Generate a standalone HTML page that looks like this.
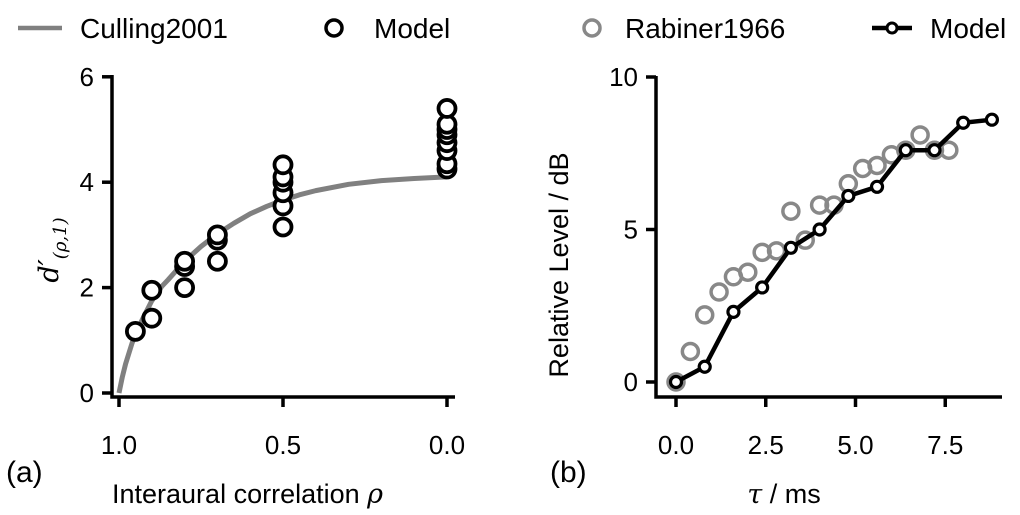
<!DOCTYPE html>
<html><head><meta charset="utf-8"><style>
body{margin:0;background:#fff}
svg text{font-family:"Liberation Sans","DejaVu Sans",sans-serif;fill:#000}
</style></head><body>
<svg id="c" width="1020" height="510" viewBox="0 0 1020 510">
<g id="legend">
 <line x1="18" y1="28" x2="62" y2="28" stroke="#808080" stroke-width="4.5"/>
 <text x="80" y="38" font-size="28">Culling2001</text>
 <circle cx="334" cy="28" r="8" fill="#fff" stroke="#000" stroke-width="3.5"/>
 <text x="374" y="38" font-size="28">Model</text>
 <circle cx="592" cy="28" r="8" fill="#fff" stroke="#888" stroke-width="3.5"/>
 <text x="625" y="38" font-size="28">Rabiner1966</text>
 <line x1="872" y1="28" x2="912" y2="28" stroke="#000" stroke-width="4.5"/>
 <circle cx="892" cy="28" r="5" fill="#fff" stroke="#000" stroke-width="3"/>
 <text x="930" y="38" font-size="28">Model</text>
</g>
<g id="pa"></g>
<g id="pb"></g>
<text x="6" y="482" font-size="30">(a)</text>
<text x="550" y="482" font-size="30">(b)</text>
<text x="112" y="503" font-size="27">Interaural correlation <tspan font-family="DejaVu Serif" font-style="italic">ρ</tspan></text>
<text x="784" y="503" font-size="27" text-anchor="middle"><tspan font-family="DejaVu Serif" font-style="italic">τ</tspan> / ms</text>
<text transform="translate(58,250) rotate(-90)" font-size="27" text-anchor="middle"><tspan font-family="DejaVu Serif" font-style="italic">d′</tspan><tspan font-size="18" dy="8" font-family="DejaVu Serif" font-style="italic">(ρ,1)</tspan></text>
<text transform="translate(568,265) rotate(-90)" font-size="27" text-anchor="middle">Relative Level / dB</text>
</svg>
<script>
// Panel A data
const curveRho=[1.0,0.99,0.98,0.96,0.95,0.93,0.9,0.87,0.85,0.8,0.75,0.7,0.65,0.6,0.55,0.5,0.45,0.4,0.3,0.2,0.1,0.0];
const curveD=[0,0.3,0.55,0.95,1.1,1.38,1.75,2.02,2.15,2.5,2.78,3.02,3.22,3.4,3.54,3.66,3.76,3.84,3.96,4.03,4.07,4.1];
const modelRho=[0.95,0.9,0.9,0.8,0.8,0.8,0.7,0.7,0.7,0.5,0.5,0.5,0.5,0.5,0.5,0.0,0.0,0.0,0.0,0.0,0.0,0.0,0.0];
const modelD=[1.17,1.42,1.95,2.0,2.4,2.5,2.5,2.9,3.0,3.15,3.55,3.8,4.0,4.1,4.33,4.25,4.35,4.6,4.75,4.9,5.0,5.1,5.4];
const xTicksA=[1.0,0.5,0.0], xTickLabelsA=["1.0","0.5","0.0"];
const yTicksA=[0,2,4,6], yTickLabelsA=["0","2","4","6"];
// Panel B data
const rabX=[0,0.4,0.8,1.2,1.6,2.0,2.4,2.8,3.2,3.6,4.0,4.4,4.8,5.2,5.6,6.0,6.4,6.8,7.2,7.6];
const rabY=[0,1.0,2.2,2.95,3.45,3.6,4.25,4.3,5.6,4.65,5.8,5.8,6.5,7.0,7.1,7.45,7.6,8.1,7.6,7.6];
const modBX=[0,0.8,1.6,2.4,3.2,4.0,4.8,5.6,6.4,7.2,8.0,8.8];
const modBY=[0,0.5,2.3,3.1,4.4,5.0,6.1,6.4,7.6,7.6,8.5,8.6];
const xTicksB=[0,2.5,5,7.5], xTickLabelsB=["0.0","2.5","5.0","7.5"];
const yTicksB=[0,5,10], yTickLabelsB=["0","5","10"];

const NS="http://www.w3.org/2000/svg";
function mk(p,t,a){const e=document.createElementNS(NS,t);for(const k in a)e.setAttribute(k,a[k]);p.appendChild(e);return e;}
const xA=v=>119+(1-v)*328, yA=v=>393-v*52.7;
const xB=v=>676+v*35.9, yB=v=>382-v*30.5;

function axes(g,x0,x1,yTop,yBot,xt,xl,xf,yt,yl,yf,n){
  let l=mk(g,'path',{d:`M${x0},${yTop}V${yBot}H${x1}`,fill:'none',stroke:'#000','stroke-width':3.5});
  
  
  xt.forEach((v,i)=>{const x=xf(v);
    let t=mk(g,'line',{x1:x,x2:x,y1:yBot,y2:yBot+10,stroke:'#000','stroke-width':3.5});
    
    
    let s=mk(g,'text',{x:x,y:454,'font-size':26,'text-anchor':'middle'});s.textContent=xl[i];
    
    });
  yt.forEach((v,i)=>{const y=yf(v);
    let t=mk(g,'line',{x1:x0-10,x2:x0,y1:y,y2:y,stroke:'#000','stroke-width':3.5});
    
    
    let s=mk(g,'text',{x:x0-18,y:y+9,'font-size':26,'text-anchor':'end'});s.textContent=yl[i];
    
    });
}
const ga=document.getElementById('pa'), gb=document.getElementById('pb');
axes(ga,112,455,75,397,xTicksA,xTickLabelsA,xA,yTicksA,yTickLabelsA,yA,'panel-a');
axes(gb,656,1002,76,397,xTicksB,xTickLabelsB,xB,yTicksB,yTickLabelsB,yB,'panel-b');

let cp=mk(ga,'polyline',{points:curveRho.map((r,i)=>xA(r)+','+yA(curveD[i])).join(' '),fill:'none',stroke:'#808080','stroke-width':5,'stroke-linejoin':'round'});


modelRho.forEach((r,i)=>{let c=mk(ga,'circle',{cx:xA(r),cy:yA(modelD[i]),r:8.5,fill:'#fff',stroke:'#000','stroke-width':3.8});
  
  });

rabX.forEach((x,i)=>{let c=mk(gb,'circle',{cx:xB(x),cy:yB(rabY[i]),r:8,fill:'none',stroke:'#888','stroke-width':3.5});
  
  });
let ml=mk(gb,'polyline',{points:modBX.map((x,i)=>xB(x)+','+yB(modBY[i])).join(' '),fill:'none',stroke:'#000','stroke-width':4.5});


modBX.forEach((x,i)=>{let c=mk(gb,'circle',{cx:xB(x),cy:yB(modBY[i]),r:5.5,fill:'#fff',stroke:'#000','stroke-width':3.2});
  
  });
</script>
</body></html>
